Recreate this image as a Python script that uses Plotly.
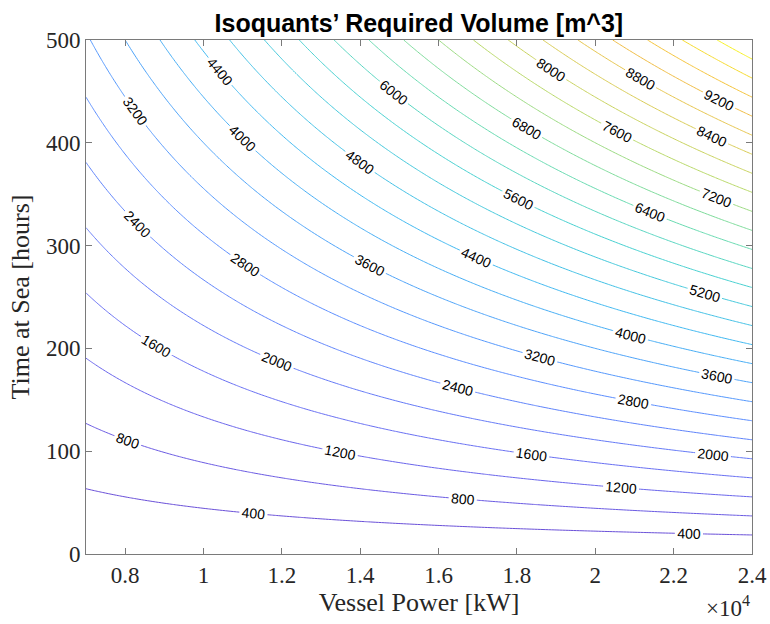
import numpy as np
import plotly.graph_objects as go

# Data: isoquant model V = k * P * t
volume_per_kwh = 0.0009
power_range = [7000, 24000]      # kW
time_range = [0, 500]            # hours
level_start, level_end, level_step = 400, 10400, 400
x_tick_vals = [8000, 10000, 12000, 14000, 16000, 18000, 20000, 22000, 24000]
x_tick_text = ["0.8", "1", "1.2", "1.4", "1.6", "1.8", "2", "2.2", "2.4"]
y_tick_vals = [0, 100, 200, 300, 400, 500]

power = np.linspace(power_range[0], power_range[1], 240)
time = np.linspace(time_range[0], time_range[1], 240)
P, T = np.meshgrid(power, time)
V = volume_per_kwh * P * T

colorscale = [
    [0.00, "#6a50d8"],
    [0.10, "#6a6af0"],
    [0.25, "#5a90ff"],
    [0.40, "#40b8f0"],
    [0.52, "#48d0d0"],
    [0.62, "#70dca8"],
    [0.72, "#b8d868"],
    [0.82, "#e0c850"],
    [0.90, "#f4b840"],
    [1.00, "#f6f020"],
]

fig = go.Figure(go.Contour(
    x=power, y=time, z=V,
    zmin=0, zmax=10800, zauto=False,
    colorscale=colorscale,
    showscale=False,
    contours=dict(start=level_start, end=level_end, size=level_step,
                  coloring="lines", showlabels=True, labelformat="d",
                  labelfont=dict(family="Arial, Liberation Sans", size=14, color="black")),
    line=dict(width=1),
    hoverinfo="skip",
))

serif = "Liberation Serif"
axis_common = dict(showline=True, linecolor="#7a7a7a", linewidth=1, mirror="allticks",
                   ticks="inside", ticklen=6, tickcolor="#7a7a7a", showgrid=False,
                   zeroline=False, automargin=False,
                   tickfont=dict(family=serif, size=23, color="#262626"))

fig.update_layout(
    width=770, height=624,
    margin=dict(l=86, r=18, t=40, b=70),
    paper_bgcolor="white", plot_bgcolor="white",
    title=dict(text="<b>Isoquants’ Required Volume [m^3]</b>", x=0.544, xanchor="center",
               y=0.963, yanchor="middle",
               font=dict(family="Arial, Liberation Sans", size=25, color="black")),
    xaxis=dict(range=power_range, tickvals=x_tick_vals, ticktext=x_tick_text,
               title=dict(text="Vessel Power [kW]", font=dict(family=serif, size=26, color="#262626"), standoff=4),
               **axis_common),
    yaxis=dict(range=time_range, tickvals=y_tick_vals,
               title=dict(text="Time at Sea [hours]", font=dict(family=serif, size=26, color="#262626"), standoff=8),
               **axis_common),
    annotations=[dict(text="×10<sup>4</sup>", xref="paper", yref="paper", x=1.0, y=-0.103,
                      xanchor="right", yanchor="middle", showarrow=False,
                      font=dict(family=serif, size=23, color="#262626"))],
)

fig.write_html("out.html")
